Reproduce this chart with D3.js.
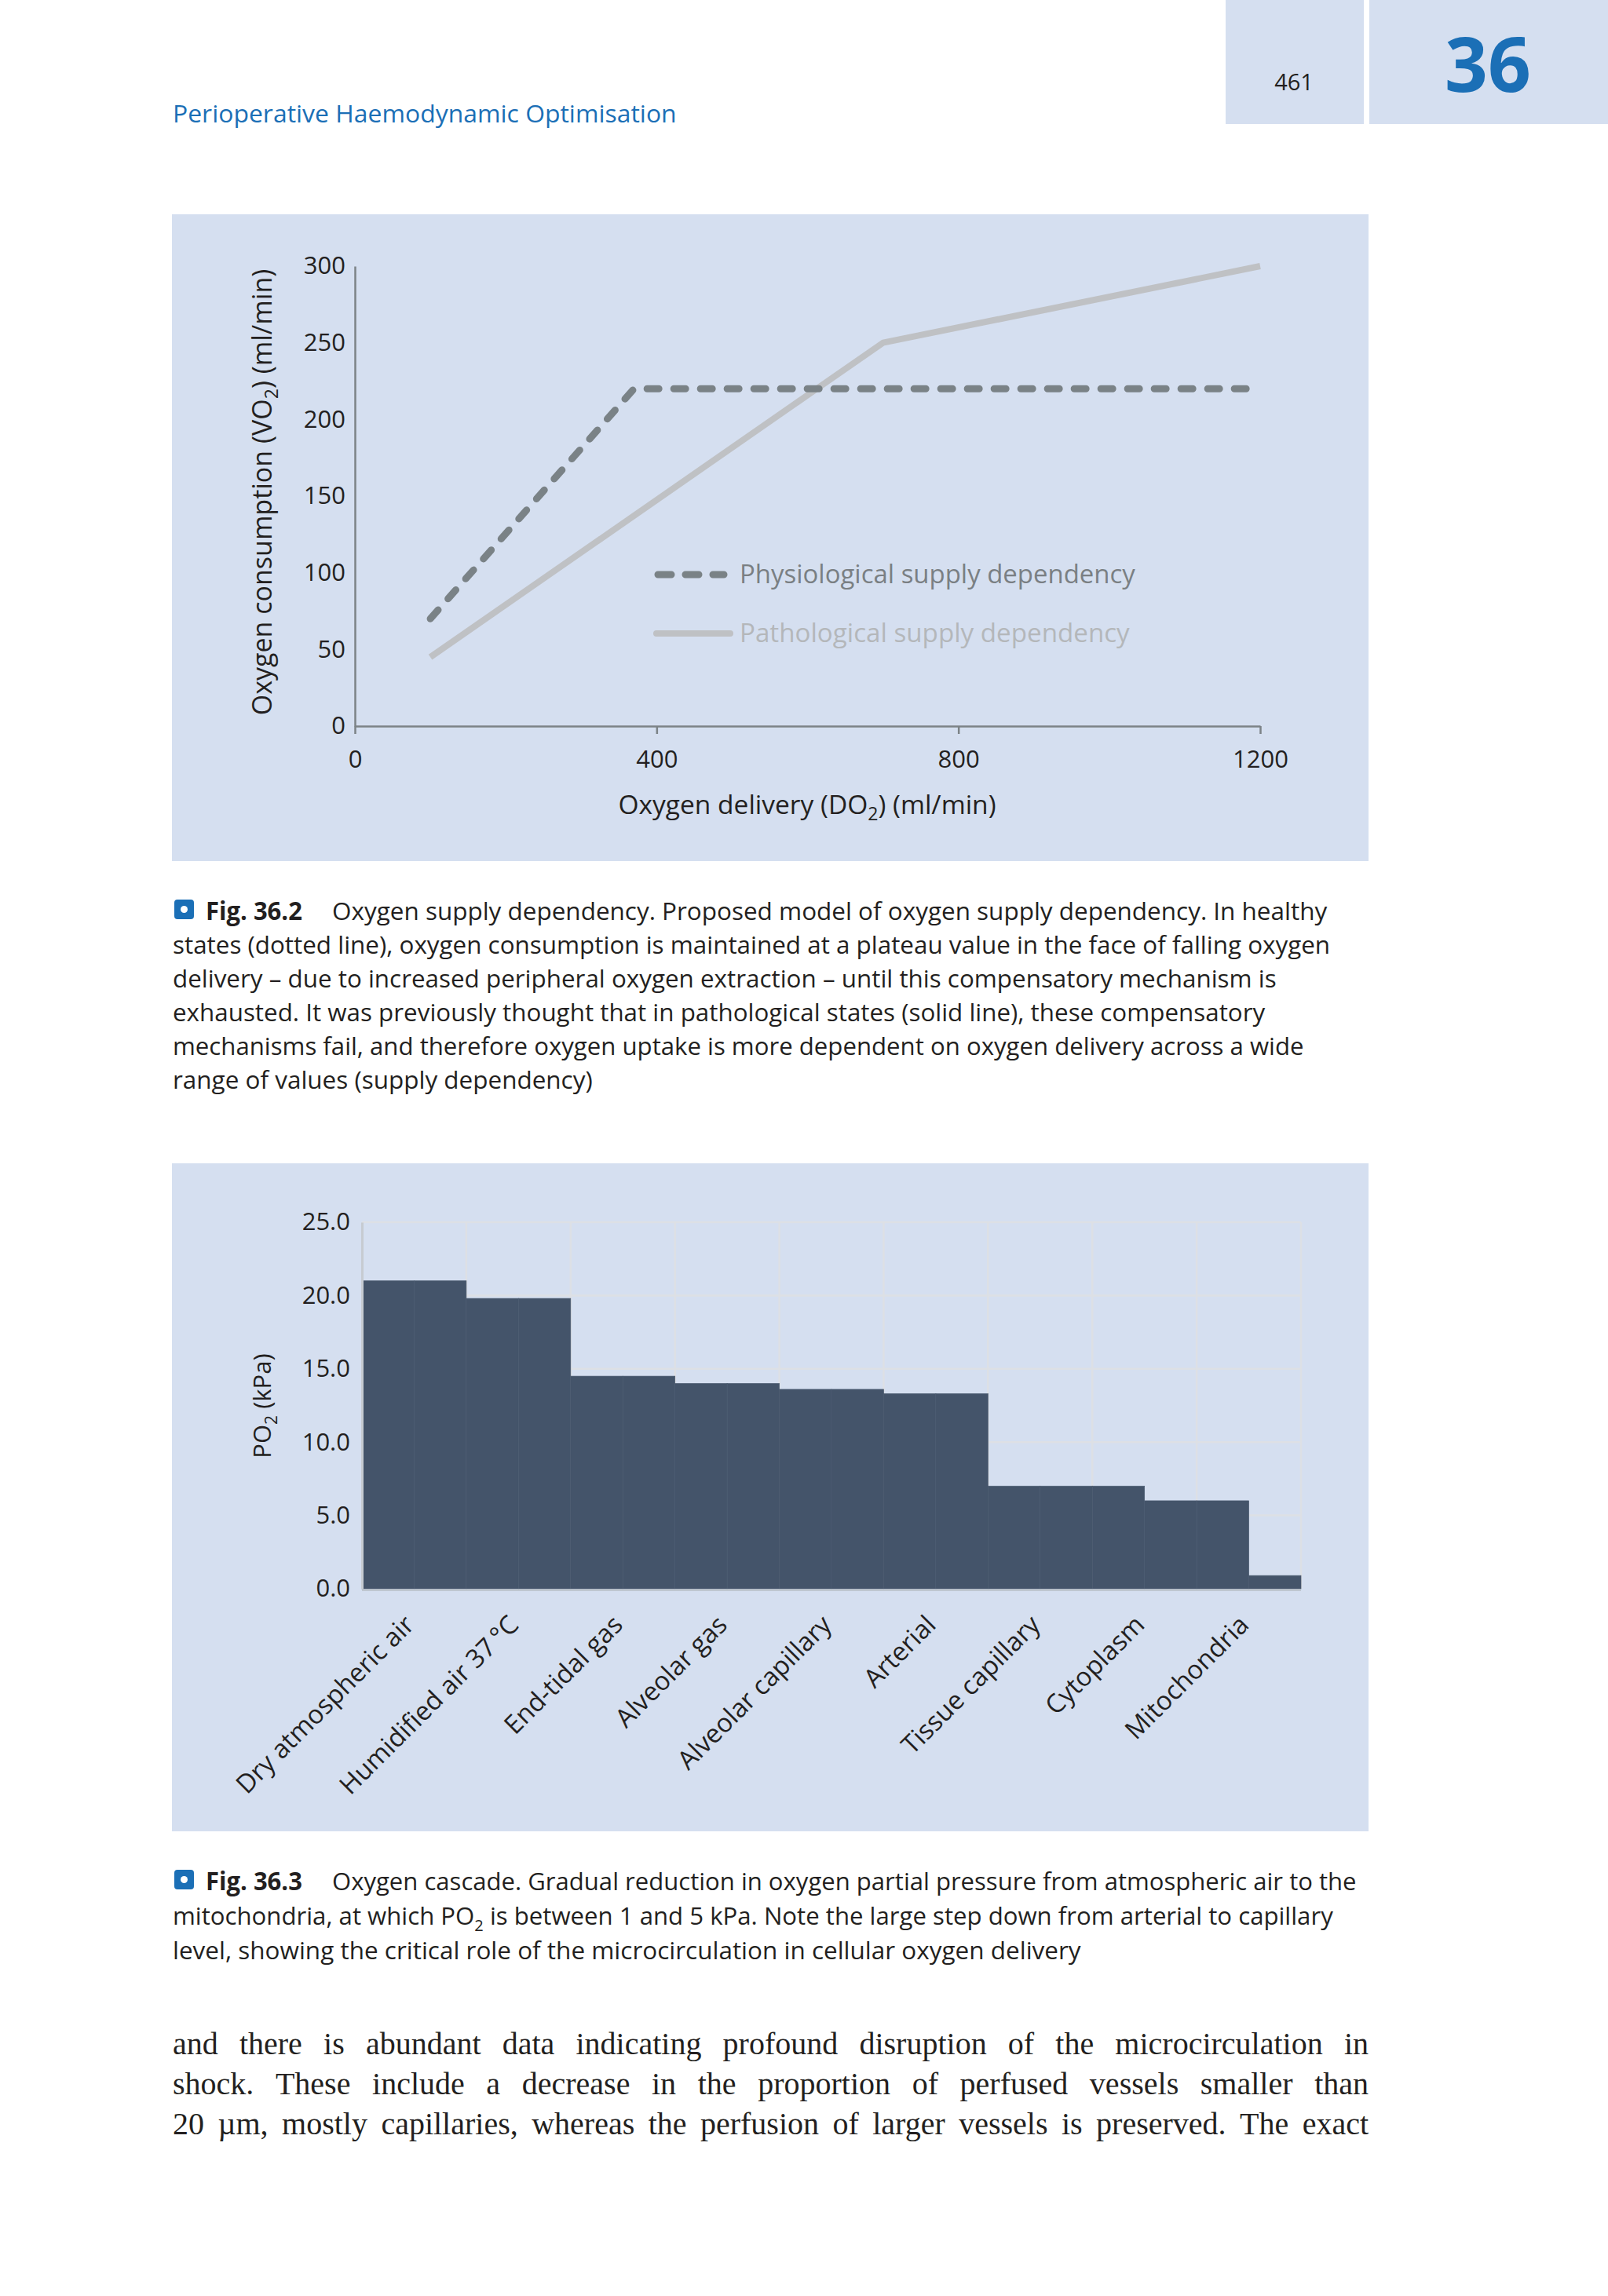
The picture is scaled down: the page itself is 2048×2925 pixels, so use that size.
<!DOCTYPE html>
<html><head><meta charset="utf-8">
<script src="https://cdn.jsdelivr.net/npm/d3@7"></script>
<style>
html,body{margin:0;padding:0;background:#fff;}
svg{display:block;}
</style></head>
<body>
<script>
// ---------- DATA ----------
// Fig 36.2
const physioDO2 = [100, 370, 1190];
const physioVO2 = [70, 220, 220];
const pathoDO2 = [100, 700, 1200];
const pathoVO2 = [45, 250, 300];
const do2Ticks = [0, 400, 800, 1200];
const vo2Ticks = [0, 50, 100, 150, 200, 250, 300];
const legendLabels = ["Physiological supply dependency", "Pathological supply dependency"];

// Fig 36.3
const stages = ["Dry atmospheric air", "Humidified air 37\u2009°C", "End-tidal gas", "Alveolar gas",
  "Alveolar capillary", "Arterial", "Tissue capillary", "Cytoplasm", "Mitochondria"];
const po2First = [21.0, 19.8, 14.5, 14.0, 13.6, 13.3, 7.0, 7.0, 6.0];
const po2Second = [21.0, 19.8, 14.5, 14.0, 13.6, 13.3, 7.0, 6.0, 0.9];
const po2Ticks = [0, 5, 10, 15, 20, 25];

// Text
const runningHead = "Perioperative Haemodynamic Optimisation";
const pageNumber = "461";
const chapterNumber = "36";
const caption1 = [
  "Oxygen supply dependency. Proposed model of oxygen supply dependency. In healthy",
  "states (dotted line), oxygen consumption is maintained at a plateau value in the face of falling oxygen",
  "delivery \u2013 due to increased peripheral oxygen extraction \u2013 until this compensatory mechanism is",
  "exhausted. It was previously thought that in pathological states (solid line), these compensatory",
  "mechanisms fail, and therefore oxygen uptake is more dependent on oxygen delivery across a wide",
  "range of values (supply dependency)"
];
const caption2 = [
  "Oxygen cascade. Gradual reduction in oxygen partial pressure from atmospheric air to the",
  ["mitochondria, at which PO", "2", " is between 1 and 5 kPa. Note the large step down from arterial to capillary"],
  "level, showing the critical role of the microcirculation in cellular oxygen delivery"
];
const bodyLines = [
  "and there is abundant data indicating profound disruption of the microcirculation in",
  "shock. These include a decrease in the proportion of perfused vessels smaller than",
  "20 \u00b5m, mostly capillaries, whereas the perfusion of larger vessels is preserved. The exact"
];

// ---------- STYLE ----------
const PANEL = "#d5dff0";
const BLUE = "#1b6fb6";
const SANS = "'Open Sans', 'Noto Sans', sans-serif";
const INK = "#231f20";

const W = 2048, H = 2925;
const svg = d3.select("body").append("svg").attr("width", W).attr("height", H)
  .style("font-family", SANS);
svg.append("rect").attr("width", W).attr("height", H).attr("fill", "#fff");

function fitX(sel, x0, target) {
  const w = sel.node().getComputedTextLength();
  const s = target / w;
  sel.attr("transform", `translate(${x0},0) scale(${s},1) translate(${-x0},0)`);
}

// ---------- HEADER ----------
svg.append("rect").attr("x", 1561).attr("y", 0).attr("width", 176).attr("height", 158).attr("fill", PANEL);
svg.append("rect").attr("x", 1744).attr("y", 0).attr("width", 304).attr("height", 158).attr("fill", PANEL);
svg.append("text").attr("x", 1648).attr("y", 115).attr("text-anchor", "middle")
  .attr("font-size", 29).attr("fill", INK).text(pageNumber);
svg.append("text").attr("x", 1895).attr("y", 117).attr("text-anchor", "middle")
  .attr("font-size", 96).attr("font-weight", 700).attr("fill", BLUE).text(chapterNumber);
const rh = svg.append("text").attr("x", 220).attr("y", 156).attr("font-size", 31)
  .attr("fill", BLUE).text(runningHead);
fitX(rh, 220, 642);

// ---------- FIG 36.2 ----------
svg.append("rect").attr("x", 219).attr("y", 273).attr("width", 1524).attr("height", 824).attr("fill", PANEL);
const x1 = d3.scaleLinear().domain([0, 1200]).range([452, 1605]);
const y1 = d3.scaleLinear().domain([0, 300]).range([925, 339]);
const AX = "#7c8387";

const gx1 = svg.append("g").attr("transform", `translate(0,${y1(0)})`)
  .call(d3.axisBottom(x1).tickValues(do2Ticks).tickFormat(d3.format("d"))
    .tickSizeInner(10).tickSizeOuter(0).tickPadding(21));
gx1.select(".domain").attr("stroke", AX).attr("stroke-width", 2.5);
gx1.selectAll(".tick line").attr("stroke", AX).attr("stroke-width", 2.5);
gx1.selectAll(".tick text").attr("font-size", 31).attr("fill", INK).attr("font-family", SANS);

const gy1 = svg.append("g").attr("transform", `translate(${x1(0)},0)`)
  .call(d3.axisLeft(y1).tickValues(vo2Ticks).tickSize(0).tickPadding(12));
gy1.select(".domain").attr("stroke", AX).attr("stroke-width", 2.5);
gy1.selectAll(".tick text").attr("font-size", 31).attr("fill", INK).attr("font-family", SANS);

const line1 = d3.line().x(d => x1(d[0])).y(d => y1(d[1]));
const pathoPts = pathoDO2.map((d, i) => [d, pathoVO2[i]]);
const physioPts = physioDO2.map((d, i) => [d, physioVO2[i]]);
svg.append("path").attr("d", line1(pathoPts)).attr("fill", "none")
  .attr("stroke", "#bfc1c4").attr("stroke-width", 8).attr("stroke-linejoin", "round");
svg.append("path").attr("d", line1(physioPts)).attr("fill", "none")
  .attr("stroke", "#7a8286").attr("stroke-width", 9).attr("stroke-linecap", "round")
  .attr("stroke-linejoin", "round").attr("stroke-dasharray", "15,19");

// legend
svg.append("line").attr("x1", 838).attr("x2", 922).attr("y1", 732).attr("y2", 732)
  .attr("stroke", "#7a8286").attr("stroke-width", 9).attr("stroke-linecap", "round").attr("stroke-dasharray", "17,18");
svg.append("line").attr("x1", 836).attr("x2", 930).attr("y1", 807).attr("y2", 807)
  .attr("stroke", "#bfc1c4").attr("stroke-width", 8).attr("stroke-linecap", "round");
const lg1 = svg.append("text").attr("x", 942).attr("y", 743).attr("font-size", 32).attr("fill", "#7a7f83").text(legendLabels[0]);
fitX(lg1, 942, 504);
const lg2 = svg.append("text").attr("x", 942).attr("y", 818).attr("font-size", 32).attr("fill", "#b4b7ba").text(legendLabels[1]);
fitX(lg2, 942, 497);

// axis titles
const xt1 = svg.append("text").attr("x", 1028).attr("y", 1037).attr("text-anchor", "middle")
  .attr("font-size", 33.5).attr("fill", INK);
xt1.append("tspan").text("Oxygen delivery (DO");
xt1.append("tspan").attr("font-size", 23).attr("dy", 8).text("2");
xt1.append("tspan").attr("dy", -8).text(") (ml/min)");

const yt1 = svg.append("text").attr("transform", "translate(346,627) rotate(-90)").attr("text-anchor", "middle")
  .attr("font-size", 34).attr("fill", INK);
yt1.append("tspan").text("Oxygen consumption (VO");
yt1.append("tspan").attr("font-size", 23).attr("dy", 8).text("2");
yt1.append("tspan").attr("dy", -8).text(") (ml/min)");

// ---------- captions ----------
function captionIcon(y) {
  svg.append("rect").attr("x", 222).attr("y", y - 25).attr("width", 25).attr("height", 25).attr("rx", 4).attr("fill", BLUE);
  svg.append("circle").attr("cx", 234.5).attr("cy", y - 12.5).attr("r", 4.5).attr("fill", "#fff");
}
function captionLines(lines, firstBase, step, targets, figLabel) {
  lines.forEach((ln, i) => {
    const y = firstBase + i * step;
    let x0 = 220;
    if (i === 0) {
      captionIcon(y - 1);
      const f = svg.append("text").attr("x", 262).attr("y", y).attr("font-size", 32)
        .attr("font-weight", 700).attr("fill", INK).text(figLabel);
      fitX(f, 262, 123);
      x0 = 423;
    }
    const t = svg.append("text").attr("x", x0).attr("y", y).attr("font-size", 31).attr("fill", INK);
    if (Array.isArray(ln)) {
      t.append("tspan").text(ln[0]);
      t.append("tspan").attr("font-size", 20).attr("dy", 8).text(ln[1]);
      t.append("tspan").attr("dy", -8).text(ln[2]);
    } else t.text(ln);
    fitX(t, x0, targets[i] - x0);
  });
}
captionLines(caption1, 1172, 43, [1691, 1695, 1626, 1612, 1661, 755], "Fig. 36.2");

// ---------- FIG 36.3 ----------
svg.append("rect").attr("x", 219).attr("y", 1482).attr("width", 1524).attr("height", 851).attr("fill", PANEL);
const x2 = d3.scaleBand().domain(stages).range([461, 1657]).padding(0);
const y2 = d3.scaleLinear().domain([0, 25]).range([2024, 1557]);
const GRID = "#dde0e5";

const grid = svg.append("g");
grid.selectAll("line.h").data(po2Ticks.filter(d => d > 0)).join("line")
  .attr("x1", x2.range()[0]).attr("x2", x2.range()[1]).attr("y1", d => y2(d)).attr("y2", d => y2(d))
  .attr("stroke", GRID).attr("stroke-width", 2.5);
grid.selectAll("line.v").data(stages).join("line")
  .attr("x1", d => x2(d) + x2.bandwidth()).attr("x2", d => x2(d) + x2.bandwidth())
  .attr("y1", y2(25)).attr("y2", y2(0))
  .attr("stroke", GRID).attr("stroke-width", 2.5);

const bw = x2.bandwidth() / 2;
const halves = [];
stages.forEach((s, i) => {
  halves.push({ s, part: 0, v: po2First[i] });
  halves.push({ s, part: 1, v: po2Second[i] });
});
svg.append("g").selectAll("rect").data(halves).join("rect")
  .attr("x", d => x2(d.s) + d.part * bw).attr("width", bw)
  .attr("y", d => y2(d.v)).attr("height", d => y2(0) - y2(d.v))
  .attr("fill", "#44546a").attr("stroke", "#4b5b70").attr("stroke-width", 0.7);

// axes
svg.append("line").attr("x1", x2.range()[0]).attr("x2", x2.range()[1]).attr("y1", y2(0) + 1.5).attr("y2", y2(0) + 1.5)
  .attr("stroke", "#b9c1c9").attr("stroke-width", 2.5);
const gy2 = svg.append("g").attr("transform", `translate(${x2.range()[0]},0)`)
  .call(d3.axisLeft(y2).tickValues(po2Ticks).tickSize(0).tickPadding(15).tickFormat(d3.format(".1f")));
gy2.select(".domain").attr("stroke", "#c6cbd1").attr("stroke-width", 3);
gy2.selectAll(".tick text").attr("font-size", 31).attr("fill", INK).attr("font-family", SANS);

svg.append("g").selectAll("text").data(stages).join("text")
  .attr("transform", d => `translate(${x2(d) + x2.bandwidth() / 2 + 2},${y2(0) + 48}) rotate(-45)`)
  .attr("text-anchor", "end").attr("font-size", 33).attr("fill", INK).text(d => d);

const yt2 = svg.append("text").attr("transform", "translate(345,1791) rotate(-90)").attr("text-anchor", "middle")
  .attr("font-size", 31).attr("fill", INK);
yt2.append("tspan").text("PO");
yt2.append("tspan").attr("font-size", 21).attr("dy", 8).text("2");
yt2.append("tspan").attr("dy", -8).text(" (kPa)");

captionLines(caption2, 2408, 44, [1728, 1698, 1377], "Fig. 36.3");

// ---------- BODY TEXT (justified) ----------
bodyLines.forEach((ln, i) => {
  const y = 2617 + i * 51;
  const words = ln.split(" ");
  const g = svg.append("g");
  let size = 40;
  const ts = words.map(w => g.append("text").attr("y", y).attr("font-size", size)
    .attr("font-family", "'Liberation Serif', serif").attr("fill", INK).text(w));
  let widths = ts.map(t => t.node().getComputedTextLength());
  let total = d3.sum(widths);
  const minGap = 9;
  let sx = 1;
  if (total + minGap * (words.length - 1) > 1523) {
    sx = (1523 - minGap * (words.length - 1)) / total;
  }
  widths = widths.map(w => w * sx);
  total = d3.sum(widths);
  const gap = (1523 - total) / (words.length - 1);
  let x = 220;
  ts.forEach((t, k) => {
    t.attr("x", 0).attr("transform", `translate(${x},0) scale(${sx},1)`);
    x += widths[k] + gap;
  });
});
</script>
</body></html>
